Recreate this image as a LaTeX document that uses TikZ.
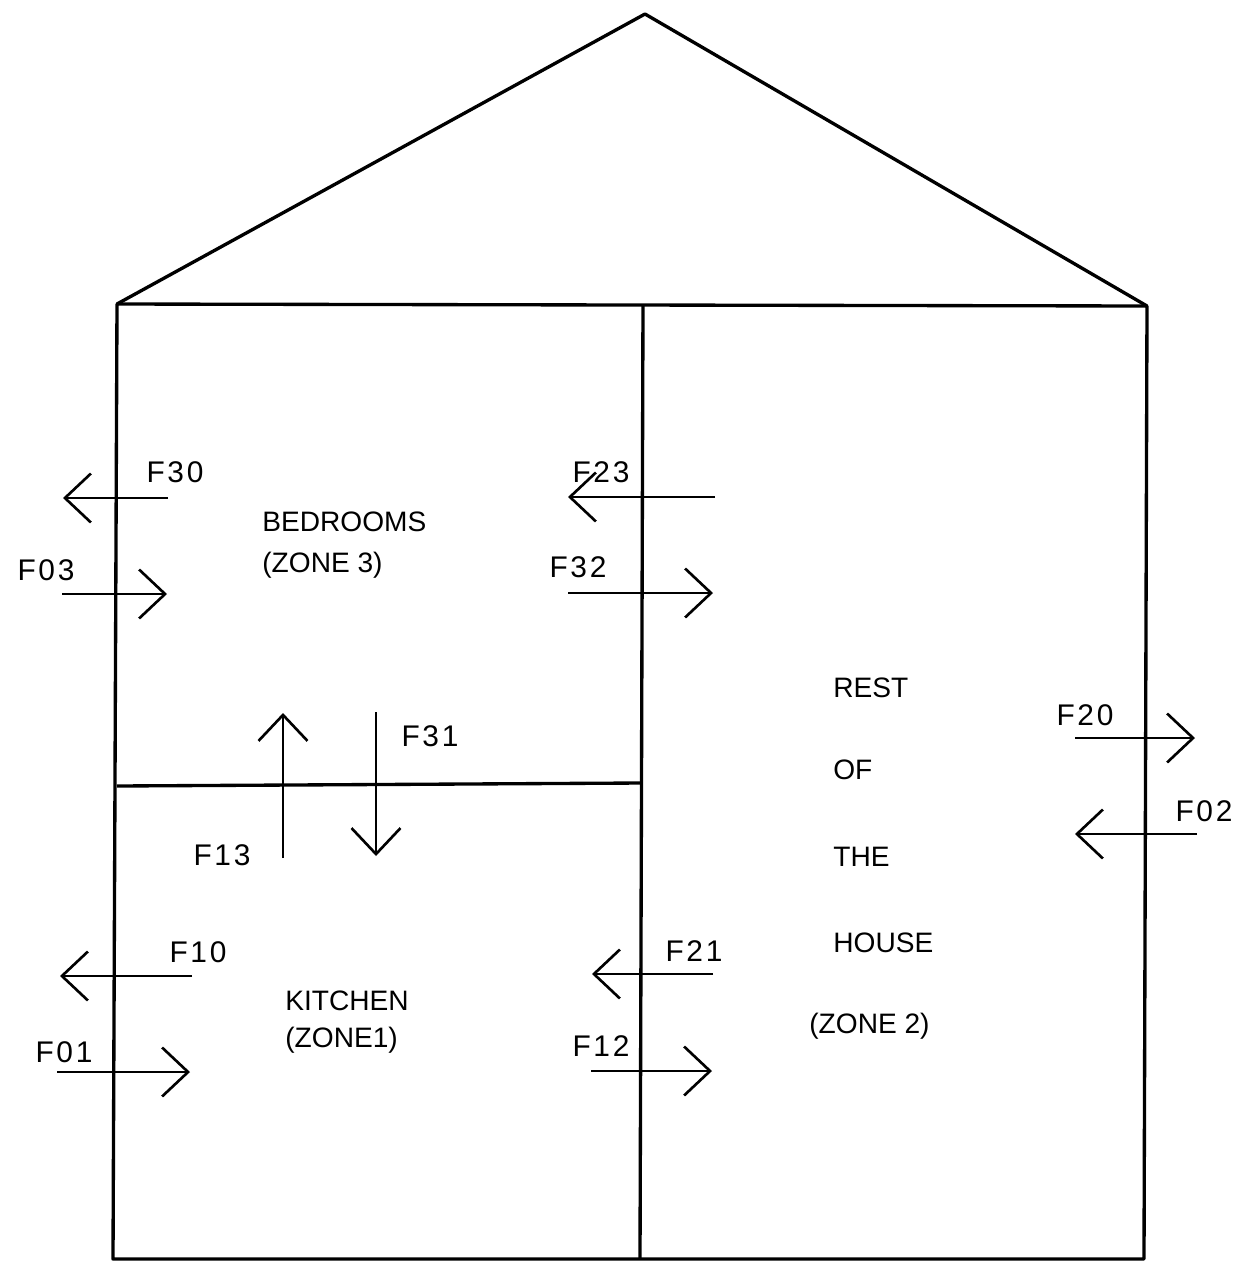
\documentclass[tikz,border=0pt]{standalone}
\usepackage{fontspec}
\setmainfont{Liberation Sans}
\newfontfamily\flowfont[LetterSpace=9]{Liberation Sans}
\usetikzlibrary{arrows.meta}

\begin{document}
\begin{tikzpicture}[x=0.02cm, y=-0.02cm,
    wall/.style={line width=1.9pt, line join=round},
    flow/.style={line width=1.5pt, -{Straight Barb[length=0.52cm, width=0.98cm]}},
    flab/.style={font=\flowfont\fontsize{17}{20}\selectfont, inner sep=0pt},
    zone/.style={font=\fontsize{16}{19}\selectfont, anchor=west, inner sep=0pt}]
    \useasboundingbox (0,0) rectangle (1239,1262);

    % house outline
    \coordinate (apex) at (645,14);
    \coordinate (tl) at (117,304);
    \coordinate (tr) at (1147,306);
    \coordinate (bl) at (113,1259);
    \coordinate (br) at (1144,1259);
    \coordinate (mt) at (643,305);
    \coordinate (mb) at (640,1259);
    \coordinate (dl) at (117,786);
    \coordinate (dr) at (641,783);
    \draw[wall] (tl) -- (apex) -- (tr);
    \draw[wall] (bl) -- (tl) -- (tr) -- (br) -- cycle;
    \draw[wall] (mt) -- (mb);
    \draw[wall] (dl) -- (dr);

    % zone names
    \node[zone] (bed) at (262,522) {BEDROOMS};
    \node[zone] (bedz) at (262,565) {(ZONE 3)};
    \node[zone] (kit) at (285,1001) {KITCHEN};
    \node[zone] (kitz) at (285,1040) {(ZONE1)};
    \node[zone] (rest) at (833,688) {REST};
    \node[zone] (of) at (833,770) {OF};
    \node[zone] (the) at (833,857) {THE};
    \node[zone] (hou) at (833,943) {HOUSE};
    \node[zone] (restz) at (809,1026) {(ZONE 2)};

    % flows, bedrooms
    \draw[flow] (168,498) -- (63,498);
    \node[flab] (f30) at (175,472) {F30};
    \draw[flow] (62,594) -- (167,594);
    \node[flab] (f03) at (46,570) {F03};
    \draw[flow] (715,497) -- (568,497);
    \node[flab] (f23) at (601,472) {F23};
    \draw[flow] (568,593) -- (713,593);
    \node[flab] (f32) at (578,567) {F32};

    % flows, bedrooms / kitchen
    \draw[flow] (376,712) -- (376,856);
    \node[flab] (f31) at (430,736) {F31};
    \draw[flow] (283,858) -- (283,713);
    \node[flab] (f13) at (222,855) {F13};

    % flows, kitchen
    \draw[flow] (192,976) -- (60,976);
    \node[flab] (f10) at (198,952) {F10};
    \draw[flow] (57,1072) -- (190,1072);
    \node[flab] (f01) at (64,1052) {F01};
    \draw[flow] (713,974) -- (592,974);
    \node[flab] (f21) at (694,951) {F21};
    \draw[flow] (591,1071) -- (712,1071);
    \node[flab] (f12) at (601,1046) {F12};

    % flows, rest of the house
    \draw[flow] (1075,738) -- (1195,738);
    \node[flab] (f20) at (1085,715) {F20};
    \draw[flow] (1197,834) -- (1075,834);
    \node[flab] (f02) at (1204,811) {F02};
\end{tikzpicture}
\end{document}
